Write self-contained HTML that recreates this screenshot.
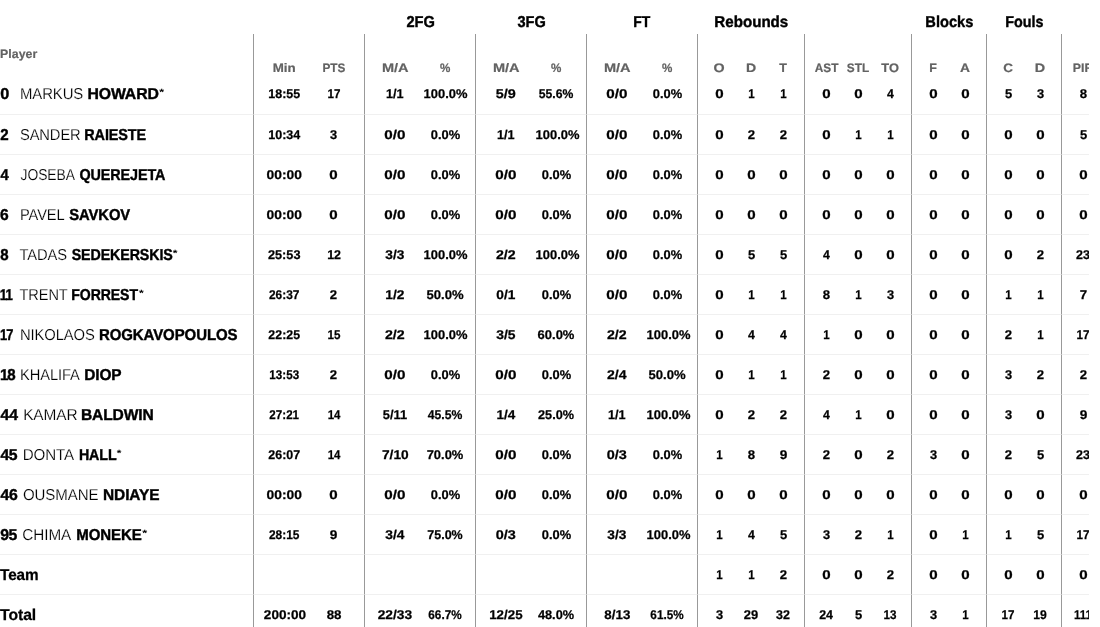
<!DOCTYPE html>
<html lang="en">
<head>
<meta charset="utf-8">
<title>Box score</title>
<style>
*{box-sizing:border-box;}
html,body{margin:0;padding:0;background:#fff;}
body{font-family:"Liberation Sans",sans-serif;color:#000;text-rendering:geometricPrecision;width:1100px;height:627px;overflow:hidden;}
.wrap{width:1089px;height:627px;overflow:hidden;position:relative;}
table.box{border-collapse:separate;border-spacing:0;table-layout:fixed;width:1104px;}
th,td{padding:0 5px;margin:0;white-space:nowrap;text-align:center;vertical-align:middle;overflow:visible;}
th.pl,td.pl{text-align:left;padding:0;}
.g{padding-left:10px;}
.e,.g:last-child{padding-right:10px;}
th span,td span{display:inline-block;position:relative;margin:0 -12px;}
.pl span,.pl b,.pl sup{display:inline-block;position:relative;margin:0;top:1px;}
th.pl span{top:0;}
span,b,sup{transform-origin:0 50%;}
.no{font-weight:bold;}
tr.grp th span{top:2px;}
tr.grp th{height:34px;font-size:15.8px;font-weight:bold;vertical-align:top;padding-top:12px;line-height:18px;}
tr.sub th{height:41px;font-size:12.3px;font-weight:bold;color:#626262;vertical-align:bottom;padding-bottom:0;line-height:14px;}
tr.sub th.pl{vertical-align:top;padding-top:13px;}
tbody td{height:40px;font-size:12.7px;font-weight:bold;border-top:1px solid #f0f0f0;line-height:18px;padding-top:1px;}
tbody tr:first-child td{border-top:0;height:39px;padding-top:0;padding-bottom:1px;}
.sub .g, tbody .g{border-left:1px solid #999;}
td.pl{font-size:15.8px;font-weight:normal;}
.fn{-webkit-text-stroke:0.18px #fff;}
td span.t,td span.m,td span.i,td span.p{transform-origin:50% 50%;}
td.pl sup{font-size:9px;font-weight:bold;vertical-align:top;line-height:12px;}
.ln,.no,tr.grp th span{-webkit-text-stroke:0.4px #000;}
.lbl{-webkit-text-stroke:0.25px #000;}
td span.t,td span.m,td span.i,td span.p{-webkit-text-stroke:0.25px #000;}
tr.sub th span{-webkit-text-stroke:0.2px #626262;}
</style>
</head>
<body>
<div class="wrap">
<table class="box">
<colgroup><col style="width:253px"><col style="width:56px"><col style="width:55px"><col style="width:56px"><col style="width:55px"><col style="width:56px"><col style="width:55px"><col style="width:56px"><col style="width:55px"><col style="width:38px"><col style="width:32px"><col style="width:37px"><col style="width:38px"><col style="width:32px"><col style="width:37px"><col style="width:38px"><col style="width:37px"><col style="width:38px"><col style="width:37px"><col style="width:43px"></colgroup>
<thead>
<tr class="grp"><th class="pl"></th><th colspan="2"></th><th colspan="2"><span id="g0" style="transform:translateX(2.40px) scaleX(0.927);">2FG</span></th><th colspan="2"><span id="g1" style="transform:translateX(2.52px) scaleX(0.920);">3FG</span></th><th colspan="2"><span id="g2" style="transform:translateX(1.23px) scaleX(0.881);">FT</span></th><th colspan="3"><span id="g3" style="transform:translateX(2.35px) scaleX(0.957);">Rebounds</span></th><th colspan="3"></th><th colspan="2"><span id="g5" style="transform:translateX(2.34px) scaleX(0.927);">Blocks</span></th><th colspan="2"><span id="g6" style="transform:translateX(3.20px) scaleX(0.908);">Fouls</span></th><th></th></tr>
<tr class="sub"><th class="pl"><span id="hp" style="letter-spacing:0.07px;margin-right:-0.42px;transform:translateX(-0.04px) scaleX(1.000);">Player</span></th><th class="w g"><span id="h0" style="transform:translateX(-0.35px) scaleX(1.085);">Min</span></th><th class="w e"><span id="h1" style="transform:translateX(0.49px) scaleX(0.958);">PTS</span></th><th class="w g"><span id="h2" style="transform:translateX(-2.06px) scaleX(1.183);">M/A</span></th><th class="w e"><span id="h3" style="transform:translateX(-0.06px) scaleX(0.946);">%</span></th><th class="w g"><span id="h4" style="transform:translateX(-2.06px) scaleX(1.183);">M/A</span></th><th class="w e"><span id="h5" style="transform:translateX(-0.06px) scaleX(0.946);">%</span></th><th class="w g"><span id="h6" style="transform:translateX(-2.06px) scaleX(1.183);">M/A</span></th><th class="w e"><span id="h7" style="transform:translateX(-0.06px) scaleX(0.946);">%</span></th><th class="n g"><span id="h8" style="transform:translateX(-0.59px) scaleX(1.160);">O</span></th><th class="n"><span id="h9" style="transform:translateX(-1.06px) scaleX(1.144);">D</span></th><th class="n e"><span id="h10" style="transform:translateX(0.19px) scaleX(1.017);">T</span></th><th class="n g"><span id="h11" style="transform:translateX(0.71px) scaleX(0.963);">AST</span></th><th class="n"><span id="h12" style="transform:translateX(0.86px) scaleX(0.961);">STL</span></th><th class="n e"><span id="h13" style="transform:translateX(-0.64px) scaleX(1.043);">TO</span></th><th class="n g"><span id="h14" style="transform:translateX(0.21px) scaleX(1.014);">F</span></th><th class="n e"><span id="h15" style="transform:translateX(-0.89px) scaleX(1.122);">A</span></th><th class="n g"><span id="h16" style="transform:translateX(-0.83px) scaleX(1.104);">C</span></th><th class="n e"><span id="h17" style="transform:translateX(-1.15px) scaleX(1.168);">D</span></th><th class="n g"><span id="h18">PIR</span></th></tr>
</thead>
<tbody>
<tr><td class="pl"><span class="no" id="r0n" style="transform:translateX(0.31px) scaleX(1.028);">0</span> <span class="fn" id="r0f" style="letter-spacing:-0.10px;margin-right:0.60px;transform:translateX(6.98px) scaleX(0.943);">MARKUS</span> <b class="ln" id="r0l" style="letter-spacing:-0.09px;margin-right:0.54px;transform:translateX(2.22px) scaleX(1.000);">HOWARD</b><sup id="r0s" style="transform:translateX(2.36px) scaleX(1.381);">*</sup></td><td class="w g"><span class="t" style="transform:scaleX(0.985)">18:55</span></td><td class="w e"><span class="i" style="transform:scaleX(0.914)">17</span></td><td class="w g"><span class="m" style="transform:scaleX(0.999)">1/1</span></td><td class="w e"><span class="p" style="transform:translateX(1.00px) scaleX(1.018)">100.0%</span></td><td class="w g"><span class="m" style="transform:scaleX(1.136)">5/9</span></td><td class="w e"><span class="p" style="transform:scaleX(0.960)">55.6%</span></td><td class="w g"><span class="m" style="transform:scaleX(1.200)">0/0</span></td><td class="w e"><span class="p" style="transform:scaleX(1.015)">0.0%</span></td><td class="n g"><span class="i" style="transform:scaleX(1.190)">0</span></td><td class="n"><span class="i" style="transform:scaleX(0.909)">1</span></td><td class="n e"><span class="i" style="transform:scaleX(0.909)">1</span></td><td class="n g"><span class="i" style="transform:scaleX(1.190)">0</span></td><td class="n"><span class="i" style="transform:scaleX(1.190)">0</span></td><td class="n e"><span class="i" style="transform:scaleX(0.973)">4</span></td><td class="n g"><span class="i" style="transform:scaleX(1.190)">0</span></td><td class="n e"><span class="i" style="transform:scaleX(1.190)">0</span></td><td class="n g"><span class="i" style="transform:scaleX(1.027)">5</span></td><td class="n e"><span class="i" style="transform:scaleX(1.014)">3</span></td><td class="n g"><span class="i" style="transform:scaleX(1.038)">8</span></td></tr>
<tr><td class="pl"><span class="no" id="r1n" style="transform:translateX(0.36px) scaleX(0.956);">2</span> <span class="fn" id="r1f" style="letter-spacing:-0.10px;margin-right:0.60px;transform:translateX(6.91px) scaleX(0.931);">SANDER</span> <b class="ln" id="r1l" style="letter-spacing:-0.10px;margin-right:0.70px;transform:translateX(1.23px) scaleX(0.913);">RAIESTE</b></td><td class="w g"><span class="t" style="transform:scaleX(0.990)">10:34</span></td><td class="w e"><span class="i" style="transform:scaleX(1.014)">3</span></td><td class="w g"><span class="m" style="transform:scaleX(1.200)">0/0</span></td><td class="w e"><span class="p" style="transform:scaleX(1.015)">0.0%</span></td><td class="w g"><span class="m" style="transform:scaleX(0.999)">1/1</span></td><td class="w e"><span class="p" style="transform:translateX(1.00px) scaleX(1.018)">100.0%</span></td><td class="w g"><span class="m" style="transform:scaleX(1.200)">0/0</span></td><td class="w e"><span class="p" style="transform:scaleX(1.015)">0.0%</span></td><td class="n g"><span class="i" style="transform:scaleX(1.190)">0</span></td><td class="n"><span class="i" style="transform:scaleX(1.039)">2</span></td><td class="n e"><span class="i" style="transform:scaleX(1.039)">2</span></td><td class="n g"><span class="i" style="transform:scaleX(1.190)">0</span></td><td class="n"><span class="i" style="transform:scaleX(0.909)">1</span></td><td class="n e"><span class="i" style="transform:scaleX(0.909)">1</span></td><td class="n g"><span class="i" style="transform:scaleX(1.190)">0</span></td><td class="n e"><span class="i" style="transform:scaleX(1.190)">0</span></td><td class="n g"><span class="i" style="transform:scaleX(1.190)">0</span></td><td class="n e"><span class="i" style="transform:scaleX(1.190)">0</span></td><td class="n g"><span class="i" style="transform:scaleX(1.027)">5</span></td></tr>
<tr><td class="pl"><span class="no" id="r2n" style="transform:translateX(0.55px) scaleX(0.933);">4</span> <span class="fn" id="r2f" style="letter-spacing:-0.10px;margin-right:0.60px;transform:translateX(7.59px) scaleX(0.878);">JOSEBA</span> <b class="ln" id="r2l" style="letter-spacing:-0.10px;margin-right:0.90px;transform:translateX(-0.55px) scaleX(0.909);">QUEREJETA</b></td><td class="w g"><span class="t" style="transform:scaleX(1.090)">00:00</span></td><td class="w e"><span class="i" style="transform:scaleX(1.190)">0</span></td><td class="w g"><span class="m" style="transform:scaleX(1.200)">0/0</span></td><td class="w e"><span class="p" style="transform:scaleX(1.015)">0.0%</span></td><td class="w g"><span class="m" style="transform:scaleX(1.200)">0/0</span></td><td class="w e"><span class="p" style="transform:scaleX(1.015)">0.0%</span></td><td class="w g"><span class="m" style="transform:scaleX(1.200)">0/0</span></td><td class="w e"><span class="p" style="transform:scaleX(1.015)">0.0%</span></td><td class="n g"><span class="i" style="transform:scaleX(1.190)">0</span></td><td class="n"><span class="i" style="transform:scaleX(1.190)">0</span></td><td class="n e"><span class="i" style="transform:scaleX(1.190)">0</span></td><td class="n g"><span class="i" style="transform:scaleX(1.190)">0</span></td><td class="n"><span class="i" style="transform:scaleX(1.190)">0</span></td><td class="n e"><span class="i" style="transform:scaleX(1.190)">0</span></td><td class="n g"><span class="i" style="transform:scaleX(1.190)">0</span></td><td class="n e"><span class="i" style="transform:scaleX(1.190)">0</span></td><td class="n g"><span class="i" style="transform:scaleX(1.190)">0</span></td><td class="n e"><span class="i" style="transform:scaleX(1.190)">0</span></td><td class="n g"><span class="i" style="transform:scaleX(1.190)">0</span></td></tr>
<tr><td class="pl"><span class="no" id="r3n" style="transform:translateX(0.09px) scaleX(0.987);">6</span> <span class="fn" id="r3f" style="letter-spacing:-0.10px;margin-right:0.50px;transform:translateX(6.92px) scaleX(0.929);">PAVEL</span> <b class="ln" id="r3l" style="letter-spacing:-0.10px;margin-right:0.60px;transform:translateX(3.30px) scaleX(0.937);">SAVKOV</b></td><td class="w g"><span class="t" style="transform:scaleX(1.090)">00:00</span></td><td class="w e"><span class="i" style="transform:scaleX(1.190)">0</span></td><td class="w g"><span class="m" style="transform:scaleX(1.200)">0/0</span></td><td class="w e"><span class="p" style="transform:scaleX(1.015)">0.0%</span></td><td class="w g"><span class="m" style="transform:scaleX(1.200)">0/0</span></td><td class="w e"><span class="p" style="transform:scaleX(1.015)">0.0%</span></td><td class="w g"><span class="m" style="transform:scaleX(1.200)">0/0</span></td><td class="w e"><span class="p" style="transform:scaleX(1.015)">0.0%</span></td><td class="n g"><span class="i" style="transform:scaleX(1.190)">0</span></td><td class="n"><span class="i" style="transform:scaleX(1.190)">0</span></td><td class="n e"><span class="i" style="transform:scaleX(1.190)">0</span></td><td class="n g"><span class="i" style="transform:scaleX(1.190)">0</span></td><td class="n"><span class="i" style="transform:scaleX(1.190)">0</span></td><td class="n e"><span class="i" style="transform:scaleX(1.190)">0</span></td><td class="n g"><span class="i" style="transform:scaleX(1.190)">0</span></td><td class="n e"><span class="i" style="transform:scaleX(1.190)">0</span></td><td class="n g"><span class="i" style="transform:scaleX(1.190)">0</span></td><td class="n e"><span class="i" style="transform:scaleX(1.190)">0</span></td><td class="n g"><span class="i" style="transform:scaleX(1.190)">0</span></td></tr>
<tr><td class="pl"><span class="no" id="r4n" style="transform:translateX(0.21px) scaleX(0.950);">8</span> <span class="fn" id="r4f" style="letter-spacing:-0.10px;margin-right:0.50px;transform:translateX(6.44px) scaleX(0.934);">TADAS</span> <b class="ln" id="r4l" style="letter-spacing:-0.10px;margin-right:1.10px;transform:translateX(2.65px) scaleX(0.901);">SEDEKERSKIS</b><sup id="r4s" style="transform:translateX(-9.26px) scaleX(1.338);">*</sup></td><td class="w g"><span class="t" style="transform:scaleX(1.004)">25:53</span></td><td class="w e"><span class="i" style="transform:scaleX(0.981)">12</span></td><td class="w g"><span class="m" style="transform:scaleX(1.081)">3/3</span></td><td class="w e"><span class="p" style="transform:translateX(1.00px) scaleX(1.018)">100.0%</span></td><td class="w g"><span class="m" style="transform:scaleX(1.121)">2/2</span></td><td class="w e"><span class="p" style="transform:translateX(1.00px) scaleX(1.018)">100.0%</span></td><td class="w g"><span class="m" style="transform:scaleX(1.200)">0/0</span></td><td class="w e"><span class="p" style="transform:scaleX(1.015)">0.0%</span></td><td class="n g"><span class="i" style="transform:scaleX(1.190)">0</span></td><td class="n"><span class="i" style="transform:scaleX(1.027)">5</span></td><td class="n e"><span class="i" style="transform:scaleX(1.027)">5</span></td><td class="n g"><span class="i" style="transform:scaleX(0.973)">4</span></td><td class="n"><span class="i" style="transform:scaleX(1.190)">0</span></td><td class="n e"><span class="i" style="transform:scaleX(1.190)">0</span></td><td class="n g"><span class="i" style="transform:scaleX(1.190)">0</span></td><td class="n e"><span class="i" style="transform:scaleX(1.190)">0</span></td><td class="n g"><span class="i" style="transform:scaleX(1.190)">0</span></td><td class="n e"><span class="i" style="transform:scaleX(1.039)">2</span></td><td class="n g"><span class="i" style="transform:scaleX(0.983)">23</span></td></tr>
<tr><td class="pl"><span class="no" id="r5n" style="letter-spacing:-1.20px;margin-right:2.40px;transform:translateX(-0.15px) scaleX(0.836);">11</span> <span class="fn" id="r5f" style="letter-spacing:-0.10px;margin-right:0.50px;transform:translateX(-1.47px) scaleX(0.922);">TRENT</span> <b class="ln" id="r5l" style="letter-spacing:-0.10px;margin-right:0.70px;transform:translateX(-6.73px) scaleX(0.891);">FORREST</b><sup id="r5s" style="transform:translateX(-14.91px) scaleX(1.344);">*</sup></td><td class="w g"><span class="t" style="transform:scaleX(0.939)">26:37</span></td><td class="w e"><span class="i" style="transform:scaleX(1.039)">2</span></td><td class="w g"><span class="m" style="transform:scaleX(1.085)">1/2</span></td><td class="w e"><span class="p" style="transform:scaleX(1.034)">50.0%</span></td><td class="w g"><span class="m" style="transform:scaleX(1.080)">0/1</span></td><td class="w e"><span class="p" style="transform:scaleX(1.015)">0.0%</span></td><td class="w g"><span class="m" style="transform:scaleX(1.200)">0/0</span></td><td class="w e"><span class="p" style="transform:scaleX(1.015)">0.0%</span></td><td class="n g"><span class="i" style="transform:scaleX(1.190)">0</span></td><td class="n"><span class="i" style="transform:scaleX(0.909)">1</span></td><td class="n e"><span class="i" style="transform:scaleX(0.909)">1</span></td><td class="n g"><span class="i" style="transform:scaleX(1.038)">8</span></td><td class="n"><span class="i" style="transform:scaleX(0.909)">1</span></td><td class="n e"><span class="i" style="transform:scaleX(1.014)">3</span></td><td class="n g"><span class="i" style="transform:scaleX(1.190)">0</span></td><td class="n e"><span class="i" style="transform:scaleX(1.190)">0</span></td><td class="n g"><span class="i" style="transform:scaleX(0.909)">1</span></td><td class="n e"><span class="i" style="transform:scaleX(0.909)">1</span></td><td class="n g"><span class="i" style="transform:scaleX(1.044)">7</span></td></tr>
<tr><td class="pl"><span class="no" id="r6n" style="letter-spacing:-1.20px;margin-right:2.40px;transform:translateX(-0.05px) scaleX(0.816);">17</span> <span class="fn" id="r6f" style="letter-spacing:-0.10px;margin-right:0.80px;transform:translateX(-2.06px) scaleX(0.936);">NIKOLAOS</span> <b class="ln" id="r6l" style="letter-spacing:-0.10px;margin-right:1.30px;transform:translateX(-8.00px) scaleX(0.949);">ROGKAVOPOULOS</b></td><td class="w g"><span class="t" style="transform:scaleX(0.977)">22:25</span></td><td class="w e"><span class="i" style="transform:scaleX(0.917)">15</span></td><td class="w g"><span class="m" style="transform:scaleX(1.121)">2/2</span></td><td class="w e"><span class="p" style="transform:translateX(1.00px) scaleX(1.018)">100.0%</span></td><td class="w g"><span class="m" style="transform:scaleX(1.095)">3/5</span></td><td class="w e"><span class="p" style="transform:scaleX(1.024)">60.0%</span></td><td class="w g"><span class="m" style="transform:scaleX(1.121)">2/2</span></td><td class="w e"><span class="p" style="transform:translateX(1.00px) scaleX(1.018)">100.0%</span></td><td class="n g"><span class="i" style="transform:scaleX(1.190)">0</span></td><td class="n"><span class="i" style="transform:scaleX(0.973)">4</span></td><td class="n e"><span class="i" style="transform:scaleX(0.973)">4</span></td><td class="n g"><span class="i" style="transform:scaleX(0.909)">1</span></td><td class="n"><span class="i" style="transform:scaleX(1.190)">0</span></td><td class="n e"><span class="i" style="transform:scaleX(1.190)">0</span></td><td class="n g"><span class="i" style="transform:scaleX(1.190)">0</span></td><td class="n e"><span class="i" style="transform:scaleX(1.190)">0</span></td><td class="n g"><span class="i" style="transform:scaleX(1.039)">2</span></td><td class="n e"><span class="i" style="transform:scaleX(0.909)">1</span></td><td class="n g"><span class="i" style="transform:scaleX(0.914)">17</span></td></tr>
<tr><td class="pl"><span class="no" id="r7n" style="letter-spacing:-1.20px;margin-right:2.40px;transform:translateX(-0.08px) scaleX(0.954);">18</span> <span class="fn" id="r7f" style="letter-spacing:-0.10px;margin-right:0.70px;transform:translateX(-2.01px) scaleX(0.930);">KHALIFA</span> <b class="ln" id="r7l" style="letter-spacing:-0.10px;margin-right:0.40px;transform:translateX(-6.84px) scaleX(0.977);">DIOP</b></td><td class="w g"><span class="t" style="transform:scaleX(0.920)">13:53</span></td><td class="w e"><span class="i" style="transform:scaleX(1.039)">2</span></td><td class="w g"><span class="m" style="transform:scaleX(1.200)">0/0</span></td><td class="w e"><span class="p" style="transform:scaleX(1.015)">0.0%</span></td><td class="w g"><span class="m" style="transform:scaleX(1.200)">0/0</span></td><td class="w e"><span class="p" style="transform:scaleX(1.015)">0.0%</span></td><td class="w g"><span class="m" style="transform:scaleX(1.112)">2/4</span></td><td class="w e"><span class="p" style="transform:scaleX(1.034)">50.0%</span></td><td class="n g"><span class="i" style="transform:scaleX(1.190)">0</span></td><td class="n"><span class="i" style="transform:scaleX(0.909)">1</span></td><td class="n e"><span class="i" style="transform:scaleX(0.909)">1</span></td><td class="n g"><span class="i" style="transform:scaleX(1.039)">2</span></td><td class="n"><span class="i" style="transform:scaleX(1.190)">0</span></td><td class="n e"><span class="i" style="transform:scaleX(1.190)">0</span></td><td class="n g"><span class="i" style="transform:scaleX(1.190)">0</span></td><td class="n e"><span class="i" style="transform:scaleX(1.190)">0</span></td><td class="n g"><span class="i" style="transform:scaleX(1.014)">3</span></td><td class="n e"><span class="i" style="transform:scaleX(1.039)">2</span></td><td class="n g"><span class="i" style="transform:scaleX(1.039)">2</span></td></tr>
<tr><td class="pl"><span class="no" id="r8n" style="letter-spacing:-0.23px;margin-right:0.46px;transform:translateX(0.57px) scaleX(1.000);">44</span> <span class="fn" id="r8f" style="letter-spacing:-0.10px;margin-right:0.50px;transform:translateX(1.16px) scaleX(0.977);">KAMAR</span> <b class="ln" id="r8l" style="letter-spacing:-0.10px;margin-right:0.70px;transform:translateX(-2.12px) scaleX(0.986);">BALDWIN</b></td><td class="w g"><span class="t" style="transform:scaleX(0.916)">27:21</span></td><td class="w e"><span class="i" style="transform:scaleX(0.904)">14</span></td><td class="w g"><span class="m" style="transform:scaleX(1.015)">5/11</span></td><td class="w e"><span class="p" style="transform:scaleX(0.961)">45.5%</span></td><td class="w g"><span class="m" style="transform:scaleX(1.064)">1/4</span></td><td class="w e"><span class="p" style="transform:translateX(0)">25.0%</span></td><td class="w g"><span class="m" style="transform:scaleX(0.999)">1/1</span></td><td class="w e"><span class="p" style="transform:translateX(1.00px) scaleX(1.018)">100.0%</span></td><td class="n g"><span class="i" style="transform:scaleX(1.190)">0</span></td><td class="n"><span class="i" style="transform:scaleX(1.039)">2</span></td><td class="n e"><span class="i" style="transform:scaleX(1.039)">2</span></td><td class="n g"><span class="i" style="transform:scaleX(0.973)">4</span></td><td class="n"><span class="i" style="transform:scaleX(0.909)">1</span></td><td class="n e"><span class="i" style="transform:scaleX(1.190)">0</span></td><td class="n g"><span class="i" style="transform:scaleX(1.190)">0</span></td><td class="n e"><span class="i" style="transform:scaleX(1.190)">0</span></td><td class="n g"><span class="i" style="transform:scaleX(1.014)">3</span></td><td class="n e"><span class="i" style="transform:scaleX(1.190)">0</span></td><td class="n g"><span class="i" style="transform:scaleX(1.078)">9</span></td></tr>
<tr><td class="pl"><span class="no" id="r9n" style="letter-spacing:-0.53px;margin-right:1.06px;transform:translateX(0.57px) scaleX(1.000);">45</span> <span class="fn" id="r9f" style="letter-spacing:-0.10px;margin-right:0.50px;transform:translateX(0.70px) scaleX(0.959);">DONTA</span> <b class="ln" id="r9l" style="letter-spacing:-0.10px;margin-right:0.40px;transform:translateX(-1.11px) scaleX(0.902);">HALL</b><sup id="r9s" style="transform:translateX(-6.15px) scaleX(1.319);">*</sup></td><td class="w g"><span class="t" style="transform:scaleX(0.983)">26:07</span></td><td class="w e"><span class="i" style="transform:scaleX(0.904)">14</span></td><td class="w g"><span class="m" style="transform:scaleX(1.082)">7/10</span></td><td class="w e"><span class="p" style="transform:scaleX(1.019)">70.0%</span></td><td class="w g"><span class="m" style="transform:scaleX(1.200)">0/0</span></td><td class="w e"><span class="p" style="transform:scaleX(1.015)">0.0%</span></td><td class="w g"><span class="m" style="transform:scaleX(1.140)">0/3</span></td><td class="w e"><span class="p" style="transform:scaleX(1.015)">0.0%</span></td><td class="n g"><span class="i" style="transform:scaleX(0.909)">1</span></td><td class="n"><span class="i" style="transform:scaleX(1.038)">8</span></td><td class="n e"><span class="i" style="transform:scaleX(1.078)">9</span></td><td class="n g"><span class="i" style="transform:scaleX(1.039)">2</span></td><td class="n"><span class="i" style="transform:scaleX(1.190)">0</span></td><td class="n e"><span class="i" style="transform:scaleX(1.039)">2</span></td><td class="n g"><span class="i" style="transform:scaleX(1.014)">3</span></td><td class="n e"><span class="i" style="transform:scaleX(1.190)">0</span></td><td class="n g"><span class="i" style="transform:scaleX(1.039)">2</span></td><td class="n e"><span class="i" style="transform:scaleX(1.027)">5</span></td><td class="n g"><span class="i" style="transform:scaleX(0.983)">23</span></td></tr>
<tr><td class="pl"><span class="no" id="r10n" style="letter-spacing:-0.28px;margin-right:0.56px;transform:translateX(0.57px) scaleX(1.000);">46</span> <span class="fn" id="r10f" style="letter-spacing:-0.10px;margin-right:0.70px;transform:translateX(0.96px) scaleX(0.952);">OUSMANE</span> <b class="ln" id="r10l" style="letter-spacing:-0.10px;margin-right:0.60px;transform:translateX(-2.99px) scaleX(0.978);">NDIAYE</b></td><td class="w g"><span class="t" style="transform:scaleX(1.090)">00:00</span></td><td class="w e"><span class="i" style="transform:scaleX(1.190)">0</span></td><td class="w g"><span class="m" style="transform:scaleX(1.200)">0/0</span></td><td class="w e"><span class="p" style="transform:scaleX(1.015)">0.0%</span></td><td class="w g"><span class="m" style="transform:scaleX(1.200)">0/0</span></td><td class="w e"><span class="p" style="transform:scaleX(1.015)">0.0%</span></td><td class="w g"><span class="m" style="transform:scaleX(1.200)">0/0</span></td><td class="w e"><span class="p" style="transform:scaleX(1.015)">0.0%</span></td><td class="n g"><span class="i" style="transform:scaleX(1.190)">0</span></td><td class="n"><span class="i" style="transform:scaleX(1.190)">0</span></td><td class="n e"><span class="i" style="transform:scaleX(1.190)">0</span></td><td class="n g"><span class="i" style="transform:scaleX(1.190)">0</span></td><td class="n"><span class="i" style="transform:scaleX(1.190)">0</span></td><td class="n e"><span class="i" style="transform:scaleX(1.190)">0</span></td><td class="n g"><span class="i" style="transform:scaleX(1.190)">0</span></td><td class="n e"><span class="i" style="transform:scaleX(1.190)">0</span></td><td class="n g"><span class="i" style="transform:scaleX(1.190)">0</span></td><td class="n e"><span class="i" style="transform:scaleX(1.190)">0</span></td><td class="n g"><span class="i" style="transform:scaleX(1.190)">0</span></td></tr>
<tr><td class="pl"><span class="no" id="r11n" style="letter-spacing:-0.54px;margin-right:1.08px;transform:translateX(0.13px) scaleX(1.000);">95</span> <span class="fn" id="r11f" style="letter-spacing:-0.10px;margin-right:0.50px;transform:translateX(0.37px) scaleX(0.968);">CHIMA</span> <b class="ln" id="r11l" style="letter-spacing:-0.10px;margin-right:0.60px;transform:translateX(-0.75px) scaleX(0.951);">MONEKE</b><sup id="r11s" style="transform:translateX(-4.84px) scaleX(1.408);">*</sup></td><td class="w g"><span class="t" style="transform:scaleX(0.942)">28:15</span></td><td class="w e"><span class="i" style="transform:scaleX(1.078)">9</span></td><td class="w g"><span class="m" style="transform:scaleX(1.089)">3/4</span></td><td class="w e"><span class="p" style="transform:scaleX(0.985)">75.0%</span></td><td class="w g"><span class="m" style="transform:scaleX(1.140)">0/3</span></td><td class="w e"><span class="p" style="transform:scaleX(1.015)">0.0%</span></td><td class="w g"><span class="m" style="transform:scaleX(1.081)">3/3</span></td><td class="w e"><span class="p" style="transform:translateX(1.00px) scaleX(1.018)">100.0%</span></td><td class="n g"><span class="i" style="transform:scaleX(0.909)">1</span></td><td class="n"><span class="i" style="transform:scaleX(0.973)">4</span></td><td class="n e"><span class="i" style="transform:scaleX(1.027)">5</span></td><td class="n g"><span class="i" style="transform:scaleX(1.014)">3</span></td><td class="n"><span class="i" style="transform:scaleX(1.039)">2</span></td><td class="n e"><span class="i" style="transform:scaleX(0.909)">1</span></td><td class="n g"><span class="i" style="transform:scaleX(1.190)">0</span></td><td class="n e"><span class="i" style="transform:scaleX(0.909)">1</span></td><td class="n g"><span class="i" style="transform:scaleX(0.909)">1</span></td><td class="n e"><span class="i" style="transform:scaleX(1.027)">5</span></td><td class="n g"><span class="i" style="transform:scaleX(0.914)">17</span></td></tr>
<tr class="team"><td class="pl"><b class="lbl" id="lteam" style="letter-spacing:-0.10px;margin-right:0.40px;transform:translateX(0.10px) scaleX(0.968);">Team</b></td><td class="w g"></td><td class="w e"></td><td class="w g"></td><td class="w e"></td><td class="w g"></td><td class="w e"></td><td class="w g"></td><td class="w e"></td><td class="n g"><span class="i" style="transform:scaleX(0.909)">1</span></td><td class="n"><span class="i" style="transform:scaleX(0.909)">1</span></td><td class="n e"><span class="i" style="transform:scaleX(1.039)">2</span></td><td class="n g"><span class="i" style="transform:scaleX(1.190)">0</span></td><td class="n"><span class="i" style="transform:scaleX(1.190)">0</span></td><td class="n e"><span class="i" style="transform:scaleX(1.039)">2</span></td><td class="n g"><span class="i" style="transform:scaleX(1.190)">0</span></td><td class="n e"><span class="i" style="transform:scaleX(1.190)">0</span></td><td class="n g"><span class="i" style="transform:scaleX(1.190)">0</span></td><td class="n e"><span class="i" style="transform:scaleX(1.190)">0</span></td><td class="n g"><span class="i" style="transform:scaleX(1.190)">0</span></td></tr>
<tr class="total"><td class="pl"><b class="lbl" id="ltotal" style="letter-spacing:-0.10px;margin-right:0.50px;transform:translateX(0.10px) scaleX(0.998);">Total</b></td><td class="w g"><span class="t" style="transform:translateX(1.20px) scaleX(1.069)">200:00</span></td><td class="w e"><span class="i" style="transform:scaleX(1.049)">88</span></td><td class="w g"><span class="m" style="transform:scaleX(1.086)">22/33</span></td><td class="w e"><span class="p" style="transform:scaleX(0.928)">66.7%</span></td><td class="w g"><span class="m" style="transform:scaleX(1.051)">12/25</span></td><td class="w e"><span class="p" style="transform:scaleX(1.006)">48.0%</span></td><td class="w g"><span class="m" style="transform:scaleX(1.052)">8/13</span></td><td class="w e"><span class="p" style="transform:scaleX(0.925)">61.5%</span></td><td class="n g"><span class="i" style="transform:scaleX(1.014)">3</span></td><td class="n"><span class="i" style="transform:scaleX(1.021)">29</span></td><td class="n e"><span class="i" style="transform:scaleX(0.984)">32</span></td><td class="n g"><span class="i" style="transform:scaleX(0.981)">24</span></td><td class="n"><span class="i" style="transform:scaleX(1.027)">5</span></td><td class="n e"><span class="i" style="transform:scaleX(0.920)">13</span></td><td class="n g"><span class="i" style="transform:scaleX(1.014)">3</span></td><td class="n e"><span class="i" style="transform:scaleX(0.909)">1</span></td><td class="n g"><span class="i" style="transform:scaleX(0.914)">17</span></td><td class="n e"><span class="i" style="transform:scaleX(0.958)">19</span></td><td class="n g"><span class="i" style="transform:scaleX(0.902)">111</span></td></tr>
</tbody>
</table>
</div>
</body>
</html>
